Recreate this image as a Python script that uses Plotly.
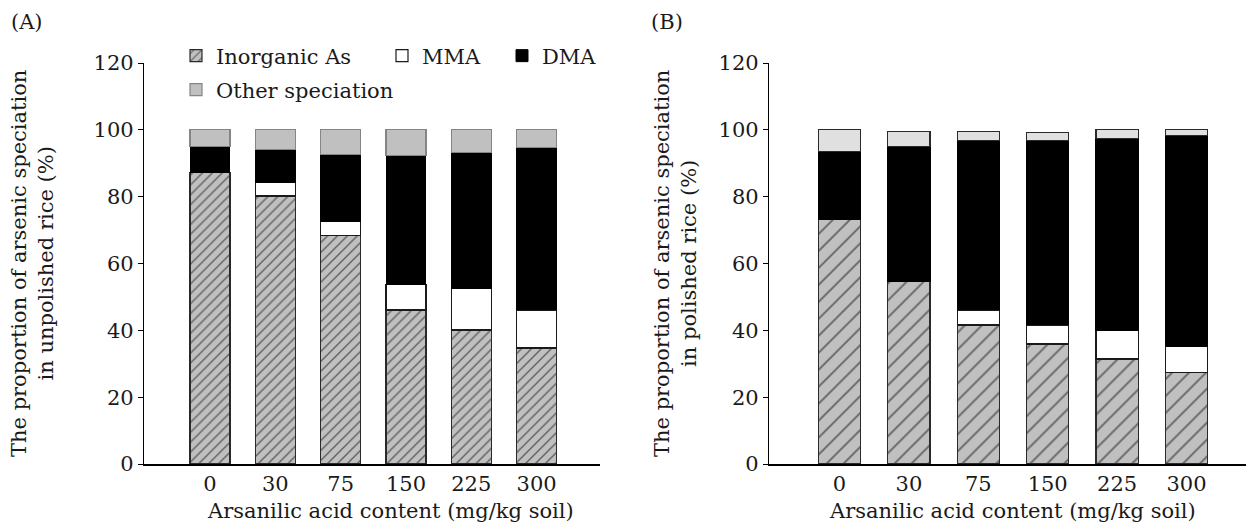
import plotly.graph_objects as go

categories = ["0", "30", "75", "150", "225", "300"]

# Panel A: unpolished rice (%)
a_inorganic = [87.2, 80.2, 68.5, 46.1, 40.1, 34.7]
a_mma = [0.0, 4.0, 4.0, 7.5, 12.5, 11.4]
a_dma = [7.8, 9.8, 20.2, 38.8, 40.5, 48.6]
a_other = [5.0, 6.0, 7.3, 7.6, 7.0, 5.3]

# Panel B: polished rice (%)
b_inorganic = [73.1, 54.6, 41.6, 35.9, 31.4, 27.5]
b_mma = [0.0, 0.0, 4.5, 5.7, 8.5, 7.8]
b_dma = [20.4, 40.4, 50.7, 55.1, 57.6, 62.9]
b_other = [6.5, 4.5, 2.7, 2.6, 2.5, 1.8]

yticks = [0, 20, 40, 60, 80, 100, 120]
x_title = "Arsanilic acid content (mg/kg soil)"
ya_title = "The proportion of arsenic speciation<br>in unpolished rice (%)"
yb_title = "The proportion of arsenic speciation<br>in polished rice (%)"

FONT = "DejaVu Serif"
FS = 21
TXT = "#1a1a1a"

fig = go.Figure()


def add_panel(xa, ya, inorg, mma, dma, other, hatch_size, hatch_sol, other_fill, other_line, legend):
    w = 0.61
    common = dict(x=categories, xaxis=xa, yaxis=ya, width=w)
    fig.add_trace(go.Bar(
        y=inorg, name="Inorganic As", showlegend=legend, legend="legend",
        marker=dict(color="#c0c0c0",
                    pattern=dict(shape="/", bgcolor="#c0c0c0", fgcolor="black",
                                 size=hatch_size, solidity=hatch_sol),
                    line=dict(color="#2a2a2a", width=1.2)),
        **common))
    fig.add_trace(go.Bar(
        y=mma, name="MMA", showlegend=legend, legend="legend3",
        marker=dict(color="white", line=dict(color="#1a1a1a", width=1.2)),
        **common))
    fig.add_trace(go.Bar(
        y=dma, name="DMA", showlegend=legend, legend="legend4",
        marker=dict(color="black", line=dict(color="black", width=1)),
        **common))
    fig.add_trace(go.Bar(
        y=other, name="Other speciation", showlegend=legend, legend="legend2",
        marker=dict(color=other_fill, line=dict(color=other_line, width=1.2)),
        **common))


add_panel("x", "y", a_inorganic, a_mma, a_dma, a_other, 7, 0.2, "#c0c0c0", "#858585", True)
add_panel("x2", "y2", b_inorganic, b_mma, b_dma, b_other, 12, 0.14, "#e0e0e0", "#2a2a2a", False)

# The page body adds an 8 px offset; the figure is drawn 8 px smaller and all
# positions below are given in screen pixels, shifted by that offset.
OFF = 8
W, H = 1254 - OFF, 525 - OFF


def fx(p):
    return (p - OFF) / W


def fy(p):
    return 1 - (p - OFF) / H


xcommon = dict(showline=True, linecolor="black", linewidth=1.5, ticks="",
               showgrid=False, zeroline=False, type="category", automargin=False,
               tickfont=dict(family=FONT, size=FS, color=TXT))
ycommon = dict(showline=True, linecolor="black", linewidth=1.2, ticks="outside",
               ticklen=5, tickcolor="black", tickwidth=1.2, showgrid=False,
               zeroline=False, range=[0, 120], tickvals=yticks, automargin=False,
               tickfont=dict(family=FONT, size=FS, color=TXT))

legend_common = dict(orientation="h", xanchor="left", yanchor="middle",
                     font=dict(family=FONT, size=FS, color=TXT),
                     bgcolor="rgba(0,0,0,0)", itemwidth=30)


def ann(text, x, y, angle=0, anchor="center", yanchor="middle"):
    return dict(text=text, x=fx(x), y=fy(y), xref="paper", yref="paper",
                xanchor=anchor, yanchor=yanchor, showarrow=False, textangle=angle,
                borderpad=0, font=dict(family=FONT, size=FS, color=TXT))


fig.update_layout(
    width=W, height=H,
    margin=dict(l=0, r=0, t=0, b=0, autoexpand=False),
    paper_bgcolor="white", plot_bgcolor="white",
    barmode="stack",
    font=dict(family=FONT, size=FS, color=TXT),
    xaxis=dict(domain=[fx(144), fx(600)], range=[-1.01, 5.97], anchor="y", **xcommon),
    yaxis=dict(domain=[fy(464), fy(63)], anchor="x", **ycommon),
    xaxis2=dict(domain=[fx(769), fx(1250)], range=[-1.016, 5.915], anchor="y2", **xcommon),
    yaxis2=dict(domain=[fy(464), fy(63)], anchor="x2", **ycommon),
    legend=dict(x=fx(176), y=fy(56), **legend_common),
    legend3=dict(x=fx(382), y=fy(56), **legend_common),
    legend4=dict(x=fx(502), y=fy(56), **legend_common),
    legend2=dict(x=fx(176), y=fy(90), **legend_common),
    annotations=[
        ann("(A)", 10, 9, anchor="left", yanchor="top"),
        ann("(B)", 650, 9, anchor="left", yanchor="top"),
        ann(x_title, 390, 511),
        ann(x_title, 1012, 511),
        ann(ya_title, 33, 264, angle=-90),
        ann(yb_title, 676, 264, angle=-90),
    ],
)

fig.write_html("out.html")
